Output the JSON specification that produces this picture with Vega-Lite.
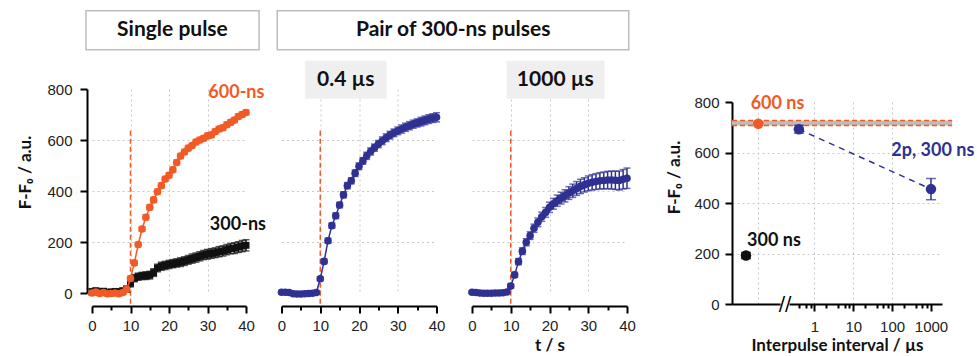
{
  "$schema": "https://vega.github.io/schema/vega-lite/v6.json",
  "background": "white",
  "padding": {"left": 16, "top": 9, "right": 0, "bottom": 0},
  "bounds": "flush",
  "spacing": 35.5,
  "datasets": {
    "ts": [
      {"s":"o","t":0,"v":0,"e":8},{"s":"o","t":1,"v":4,"e":8},{"s":"o","t":2,"v":-2,"e":8},{"s":"o","t":3,"v":2,"e":8},{"s":"o","t":4,"v":-3,"e":8},{"s":"o","t":5,"v":-2,"e":8},{"s":"o","t":6,"v":0,"e":8},{"s":"o","t":7,"v":-3,"e":8},{"s":"o","t":8,"v":2,"e":8},{"s":"o","t":9,"v":14,"e":8},{"s":"o","t":10,"v":57,"e":9},{"s":"o","t":11,"v":118,"e":9},{"s":"o","t":12,"v":190,"e":9},{"s":"o","t":13,"v":251,"e":9},{"s":"o","t":14,"v":297,"e":10},{"s":"o","t":15,"v":336,"e":10},{"s":"o","t":16,"v":365,"e":10},{"s":"o","t":17,"v":397,"e":10},{"s":"o","t":18,"v":421,"e":10},{"s":"o","t":19,"v":447,"e":10},{"s":"o","t":20,"v":462,"e":10},{"s":"o","t":21,"v":483,"e":10},{"s":"o","t":22,"v":512,"e":10},{"s":"o","t":23,"v":537,"e":10},{"s":"o","t":24,"v":553,"e":10},{"s":"o","t":25,"v":568,"e":10},{"s":"o","t":26,"v":578,"e":10},{"s":"o","t":27,"v":592,"e":10},{"s":"o","t":28,"v":600,"e":10},{"s":"o","t":29,"v":607,"e":10},{"s":"o","t":30,"v":616,"e":10},{"s":"o","t":31,"v":620,"e":10},{"s":"o","t":32,"v":633,"e":10},{"s":"o","t":33,"v":643,"e":10},{"s":"o","t":34,"v":648,"e":10},{"s":"o","t":35,"v":660,"e":10},{"s":"o","t":36,"v":669,"e":10},{"s":"o","t":37,"v":678,"e":10},{"s":"o","t":38,"v":692,"e":10},{"s":"o","t":39,"v":700,"e":10},{"s":"o","t":40,"v":708,"e":10},
      {"s":"k","t":0,"v":5,"e":12},{"s":"k","t":1,"v":8,"e":12},{"s":"k","t":2,"v":4,"e":12},{"s":"k","t":3,"v":6,"e":12},{"s":"k","t":4,"v":2,"e":12},{"s":"k","t":5,"v":3,"e":12},{"s":"k","t":6,"v":5,"e":12},{"s":"k","t":7,"v":4,"e":12},{"s":"k","t":8,"v":8,"e":12},{"s":"k","t":9,"v":15,"e":12},{"s":"k","t":10,"v":38,"e":14},{"s":"k","t":11,"v":58,"e":14},{"s":"k","t":12,"v":64,"e":14},{"s":"k","t":13,"v":67,"e":14},{"s":"k","t":14,"v":68,"e":15},{"s":"k","t":15,"v":70,"e":15},{"s":"k","t":16,"v":80,"e":15},{"s":"k","t":17,"v":98,"e":15},{"s":"k","t":18,"v":105,"e":16},{"s":"k","t":19,"v":108,"e":16},{"s":"k","t":20,"v":112,"e":16},{"s":"k","t":21,"v":115,"e":16},{"s":"k","t":22,"v":118,"e":16},{"s":"k","t":23,"v":121,"e":17},{"s":"k","t":24,"v":125,"e":17},{"s":"k","t":25,"v":130,"e":17},{"s":"k","t":26,"v":135,"e":18},{"s":"k","t":27,"v":139,"e":18},{"s":"k","t":28,"v":144,"e":18},{"s":"k","t":29,"v":149,"e":18},{"s":"k","t":30,"v":152,"e":19},{"s":"k","t":31,"v":155,"e":19},{"s":"k","t":32,"v":158,"e":19},{"s":"k","t":33,"v":162,"e":20},{"s":"k","t":34,"v":165,"e":20},{"s":"k","t":35,"v":170,"e":20},{"s":"k","t":36,"v":174,"e":20},{"s":"k","t":37,"v":176,"e":21},{"s":"k","t":38,"v":180,"e":21},{"s":"k","t":39,"v":184,"e":22},{"s":"k","t":40,"v":187,"e":22},
      {"s":"a","t":0,"v":3,"e":6},{"s":"a","t":1,"v":3,"e":6},{"s":"a","t":2,"v":2,"e":6},{"s":"a","t":3,"v":-3,"e":6},{"s":"a","t":4,"v":-4,"e":6},{"s":"a","t":5,"v":-4,"e":6},{"s":"a","t":6,"v":-3,"e":6},{"s":"a","t":7,"v":-2,"e":6},{"s":"a","t":8,"v":-1,"e":6},{"s":"a","t":9,"v":2,"e":6},{"s":"a","t":10,"v":56,"e":8},{"s":"a","t":11,"v":124,"e":9},{"s":"a","t":12,"v":205,"e":10},{"s":"a","t":13,"v":264,"e":10},{"s":"a","t":14,"v":303,"e":11},{"s":"a","t":15,"v":345,"e":11},{"s":"a","t":16,"v":385,"e":12},{"s":"a","t":17,"v":421,"e":12},{"s":"a","t":18,"v":440,"e":12},{"s":"a","t":19,"v":470,"e":13},{"s":"a","t":20,"v":497,"e":13},{"s":"a","t":21,"v":518,"e":13},{"s":"a","t":22,"v":538,"e":14},{"s":"a","t":23,"v":555,"e":14},{"s":"a","t":24,"v":570,"e":14},{"s":"a","t":25,"v":584,"e":14},{"s":"a","t":26,"v":597,"e":15},{"s":"a","t":27,"v":609,"e":15},{"s":"a","t":28,"v":619,"e":15},{"s":"a","t":29,"v":628,"e":15},{"s":"a","t":30,"v":636,"e":15},{"s":"a","t":31,"v":643,"e":16},{"s":"a","t":32,"v":650,"e":16},{"s":"a","t":33,"v":656,"e":16},{"s":"a","t":34,"v":662,"e":16},{"s":"a","t":35,"v":667,"e":16},{"s":"a","t":36,"v":672,"e":17},{"s":"a","t":37,"v":677,"e":17},{"s":"a","t":38,"v":682,"e":17},{"s":"a","t":39,"v":686,"e":17},{"s":"a","t":40,"v":689,"e":18},
      {"s":"b","t":0,"v":3,"e":5},{"s":"b","t":1,"v":2,"e":5},{"s":"b","t":2,"v":0,"e":5},{"s":"b","t":3,"v":-1,"e":5},{"s":"b","t":4,"v":-1,"e":5},{"s":"b","t":5,"v":-1,"e":5},{"s":"b","t":6,"v":0,"e":5},{"s":"b","t":7,"v":0,"e":5},{"s":"b","t":8,"v":1,"e":5},{"s":"b","t":9,"v":4,"e":6},{"s":"b","t":10,"v":27,"e":8},{"s":"b","t":11,"v":71,"e":10},{"s":"b","t":12,"v":123,"e":12},{"s":"b","t":13,"v":164,"e":13},{"s":"b","t":14,"v":199,"e":14},{"s":"b","t":15,"v":225,"e":15},{"s":"b","t":16,"v":254,"e":16},{"s":"b","t":17,"v":277,"e":17},{"s":"b","t":18,"v":299,"e":18},{"s":"b","t":19,"v":316,"e":19},{"s":"b","t":20,"v":336,"e":20},{"s":"b","t":21,"v":350,"e":21},{"s":"b","t":22,"v":362,"e":22},{"s":"b","t":23,"v":372,"e":23},{"s":"b","t":24,"v":381,"e":24},{"s":"b","t":25,"v":392,"e":25},{"s":"b","t":26,"v":401,"e":26},{"s":"b","t":27,"v":410,"e":27},{"s":"b","t":28,"v":418,"e":28},{"s":"b","t":29,"v":424,"e":28},{"s":"b","t":30,"v":430,"e":29},{"s":"b","t":31,"v":434,"e":30},{"s":"b","t":32,"v":437,"e":31},{"s":"b","t":33,"v":440,"e":32},{"s":"b","t":34,"v":441,"e":33},{"s":"b","t":35,"v":443,"e":34},{"s":"b","t":36,"v":443,"e":35},{"s":"b","t":37,"v":442,"e":36},{"s":"b","t":38,"v":441,"e":37},{"s":"b","t":39,"v":446,"e":38},{"s":"b","t":40,"v":450,"e":40}
    ],
    "sum": [
      {"g":"300 ns","x":0.0174,"v":192,"e":12},
      {"g":"600 ns","x":0.036,"v":714,"e":6},
      {"g":"2p","x":0.4,"v":692,"e":16},
      {"g":"2p","x":1000,"v":455,"e":42}
    ]
  },
  "hconcat": [
    {
      "width": 154, "height": 204,
      "layer": [
        {"data": {"values": [{}]}, "mark": {"type": "rule", "color": "#f15a24", "strokeDash": [5, 3], "strokeWidth": 1.5},
         "encoding": {"x": {"datum": 10, "axis": {"values": [0,5,10,15,20,25,30,35,40], "labelExpr": "datum.value % 10 === 0 ? datum.label : ''", "labelOverlap": false, "labelFlush": false, "tickSize": {"condition": {"test": "datum.value % 10 === 0", "value": 7}, "value": 4}, "gridOpacity": {"condition": {"test": "datum.value % 10 === 0 && datum.value > 0 && datum.value < 40", "value": 1}, "value": 0}, "grid": true, "offset": 13, "title": null, "labelPadding": 5}}, "y": {"datum": -42}, "y2": {"datum": 640}}},
        {"data": {"values": [{"label": "Single pulse"}]}, "mark": {"type": "rect", "fill": "white", "stroke": "#bdbdbd", "strokeWidth": 1.5},
         "encoding": {"x": {"datum": -1.56, "axis": {"values": [0,5,10,15,20,25,30,35,40], "labelExpr": "datum.value % 10 === 0 ? datum.label : ''", "labelOverlap": false, "labelFlush": false, "tickSize": {"condition": {"test": "datum.value % 10 === 0", "value": 7}, "value": 4}, "gridOpacity": {"condition": {"test": "datum.value % 10 === 0 && datum.value > 0 && datum.value < 40", "value": 1}, "value": 0}, "grid": true, "offset": 13, "title": null, "labelPadding": 5}}, "x2": {"datum": 43.4}, "y": {"datum": 954}, "y2": {"datum": 1107}}},
        {"data": {"values": [{"label": "Single pulse"}]}, "mark": {"type": "text", "font": "Lato", "fontWeight": "bold", "fontSize": 21, "color": "#111"},
         "encoding": {"x": {"datum": 20.9, "axis": {"values": [0,5,10,15,20,25,30,35,40], "labelExpr": "datum.value % 10 === 0 ? datum.label : ''", "labelOverlap": false, "labelFlush": false, "tickSize": {"condition": {"test": "datum.value % 10 === 0", "value": 7}, "value": 4}, "gridOpacity": {"condition": {"test": "datum.value % 10 === 0 && datum.value > 0 && datum.value < 40", "value": 1}, "value": 0}, "grid": true, "offset": 13, "title": null, "labelPadding": 5}}, "y": {"datum": 1030}, "text": {"field": "label"}}},
        {"data": {"name": "ts"}, "transform": [{"filter": "datum.s === 'k' || datum.s === 'o'"}],
         "encoding": {
           "x": {"field": "t", "type": "quantitative", "title": null, "scale": {"domain": [0, 40], "nice": false, "zero": false},
             "axis": {"values": [0,5,10,15,20,25,30,35,40], "labelExpr": "datum.value % 10 === 0 ? datum.label : ''", "labelOverlap": false, "labelFlush": false,
               "tickSize": {"condition": {"test": "datum.value % 10 === 0", "value": 7}, "value": 4},
               "gridOpacity": {"condition": {"test": "datum.value % 10 === 0 && datum.value > 0 && datum.value < 40", "value": 1}, "value": 0},
               "grid": true, "offset": 13, "title": null, "labelPadding": 5}},
           "y": {"field": "v", "type": "quantitative", "title": "F-F₀ / a.u.", "scale": {"domain": [0, 800], "nice": false},
             "axis": {"values": [0,100,200,300,400,500,600,700,800], "labelExpr": "datum.value % 200 === 0 ? datum.label : ''", "labelOverlap": false,
               "tickSize": {"condition": {"test": "datum.value % 200 === 0", "value": 7}, "value": 4},
               "gridOpacity": {"condition": {"test": "datum.value % 200 === 0 && datum.value > 0 && datum.value < 800", "value": 1}, "value": 0},
               "grid": true, "offset": 5, "title": "F-F₀ / a.u.", "titlePadding": 12, "titleY": 83, "labelPadding": 8}}
         },
         "layer": [
           {"transform": [{"filter": "datum.s === 'k'"}], "mark": {"type": "line", "color": "#111", "strokeWidth": 1.5}},
           {"transform": [{"filter": "datum.s === 'k'"}], "mark": {"type": "errorbar", "ticks": true, "size": 7, "thickness": 1.5, "color": "#111"}, "encoding": {"yError": {"field": "e"}}},
           {"transform": [{"filter": "datum.s === 'k'"}], "mark": {"type": "point", "shape": "square", "filled": true, "size": 48, "opacity": 1, "color": "#111"}},
           {"transform": [{"filter": "datum.s === 'o'"}], "mark": {"type": "line", "color": "#f15a24", "strokeWidth": 1.5}},
           {"transform": [{"filter": "datum.s === 'o'"}], "mark": {"type": "errorbar", "ticks": true, "size": 7, "thickness": 1.5, "color": "#f15a24"}, "encoding": {"yError": {"field": "e"}}},
           {"transform": [{"filter": "datum.s === 'o'"}], "mark": {"type": "circle", "size": 58, "opacity": 1, "color": "#f15a24"}}
         ]},
        {"data": {"values": [{"label": "600-ns"}]}, "mark": {"type": "text", "font": "Lato", "fontWeight": "bold", "fontSize": 18, "color": "#f15a24"},
         "encoding": {"x": {"datum": 37.5, "axis": {"values": [0,5,10,15,20,25,30,35,40], "labelExpr": "datum.value % 10 === 0 ? datum.label : ''", "labelOverlap": false, "labelFlush": false, "tickSize": {"condition": {"test": "datum.value % 10 === 0", "value": 7}, "value": 4}, "gridOpacity": {"condition": {"test": "datum.value % 10 === 0 && datum.value > 0 && datum.value < 40", "value": 1}, "value": 0}, "grid": true, "offset": 13, "title": null, "labelPadding": 5}}, "y": {"datum": 785}, "text": {"field": "label"}}},
        {"data": {"values": [{"label": "300-ns"}]}, "mark": {"type": "text", "font": "Lato", "fontWeight": "bold", "fontSize": 18, "color": "#111"},
         "encoding": {"x": {"datum": 37.9, "axis": {"values": [0,5,10,15,20,25,30,35,40], "labelExpr": "datum.value % 10 === 0 ? datum.label : ''", "labelOverlap": false, "labelFlush": false, "tickSize": {"condition": {"test": "datum.value % 10 === 0", "value": 7}, "value": 4}, "gridOpacity": {"condition": {"test": "datum.value % 10 === 0 && datum.value > 0 && datum.value < 40", "value": 1}, "value": 0}, "grid": true, "offset": 13, "title": null, "labelPadding": 5}}, "y": {"datum": 268}, "text": {"field": "label"}}}
      ]
    },
    {
      "width": 155, "height": 204,
      "layer": [
        {"data": {"values": [{}]}, "mark": {"type": "rule", "color": "#f15a24", "strokeDash": [5, 3], "strokeWidth": 1.5},
         "encoding": {"x": {"datum": 10, "axis": {"values": [0,5,10,15,20,25,30,35,40], "labelExpr": "datum.value % 10 === 0 ? datum.label : ''", "labelOverlap": false, "labelFlush": false, "tickSize": {"condition": {"test": "datum.value % 10 === 0", "value": 7}, "value": 4}, "gridOpacity": {"condition": {"test": "datum.value % 10 === 0 && datum.value > 0 && datum.value < 40", "value": 1}, "value": 0}, "grid": true, "offset": 13, "title": null, "labelPadding": 5}}, "y": {"datum": -42}, "y2": {"datum": 640}}},
        {"data": {"values": [{"label": "Pair of 300-ns pulses"}]}, "mark": {"type": "rect", "fill": "white", "stroke": "#bdbdbd", "strokeWidth": 1.5},
         "encoding": {"x": {"datum": -1.1, "axis": {"values": [0,5,10,15,20,25,30,35,40], "labelExpr": "datum.value % 10 === 0 ? datum.label : ''", "labelOverlap": false, "labelFlush": false, "tickSize": {"condition": {"test": "datum.value % 10 === 0", "value": 7}, "value": 4}, "gridOpacity": {"condition": {"test": "datum.value % 10 === 0 && datum.value > 0 && datum.value < 40", "value": 1}, "value": 0}, "grid": true, "offset": 13, "title": null, "labelPadding": 5}}, "x2": {"datum": 89.6}, "y": {"datum": 954}, "y2": {"datum": 1107}}},
        {"data": {"values": [{"label": "Pair of 300-ns pulses"}]}, "mark": {"type": "text", "font": "Lato", "fontWeight": "bold", "fontSize": 21, "color": "#111"},
         "encoding": {"x": {"datum": 44.3, "axis": {"values": [0,5,10,15,20,25,30,35,40], "labelExpr": "datum.value % 10 === 0 ? datum.label : ''", "labelOverlap": false, "labelFlush": false, "tickSize": {"condition": {"test": "datum.value % 10 === 0", "value": 7}, "value": 4}, "gridOpacity": {"condition": {"test": "datum.value % 10 === 0 && datum.value > 0 && datum.value < 40", "value": 1}, "value": 0}, "grid": true, "offset": 13, "title": null, "labelPadding": 5}}, "y": {"datum": 1030}, "text": {"field": "label"}}},
        {"data": {"name": "ts"}, "transform": [{"filter": "datum.s === 'a'"}],
         "encoding": {
           "x": {"field": "t", "type": "quantitative", "title": null, "scale": {"domain": [0, 40], "nice": false, "zero": false},
             "axis": {"values": [0,5,10,15,20,25,30,35,40], "labelExpr": "datum.value % 10 === 0 ? datum.label : ''", "labelOverlap": false, "labelFlush": false,
               "tickSize": {"condition": {"test": "datum.value % 10 === 0", "value": 7}, "value": 4},
               "gridOpacity": {"condition": {"test": "datum.value % 10 === 0 && datum.value > 0 && datum.value < 40", "value": 1}, "value": 0},
               "grid": true, "offset": 13, "title": null, "labelPadding": 5}},
           "y": {"field": "v", "type": "quantitative", "title": null, "scale": {"domain": [0, 800], "nice": false},
             "axis": {"values": [200, 400, 600], "domain": false, "ticks": false, "labels": false, "grid": true, "title": null}}
         },
         "layer": [
           {"mark": {"type": "line", "color": "#2e3192", "strokeWidth": 1.5}},
           {"mark": {"type": "errorbar", "ticks": true, "size": 7, "thickness": 1.5, "color": "#2e3192"}, "encoding": {"yError": {"field": "e"}}},
           {"mark": {"type": "circle", "size": 58, "opacity": 1, "color": "#2e3192"}}
         ]},
        {"data": {"values": [{"label": "0.4 µs"}]}, "mark": {"type": "rect", "fill": "#efefef"},
         "encoding": {"x": {"datum": 6.1, "axis": {"values": [0,5,10,15,20,25,30,35,40], "labelExpr": "datum.value % 10 === 0 ? datum.label : ''", "labelOverlap": false, "labelFlush": false, "tickSize": {"condition": {"test": "datum.value % 10 === 0", "value": 7}, "value": 4}, "gridOpacity": {"condition": {"test": "datum.value % 10 === 0 && datum.value > 0 && datum.value < 40", "value": 1}, "value": 0}, "grid": true, "offset": 13, "title": null, "labelPadding": 5}}, "x2": {"datum": 27.1}, "y": {"datum": 762}, "y2": {"datum": 911}}},
        {"data": {"values": [{"label": "0.4 µs"}]}, "mark": {"type": "text", "font": "Lato", "fontWeight": "bold", "fontSize": 21, "color": "#111"},
         "encoding": {"x": {"datum": 16.6, "axis": {"values": [0,5,10,15,20,25,30,35,40], "labelExpr": "datum.value % 10 === 0 ? datum.label : ''", "labelOverlap": false, "labelFlush": false, "tickSize": {"condition": {"test": "datum.value % 10 === 0", "value": 7}, "value": 4}, "gridOpacity": {"condition": {"test": "datum.value % 10 === 0 && datum.value > 0 && datum.value < 40", "value": 1}, "value": 0}, "grid": true, "offset": 13, "title": null, "labelPadding": 5}}, "y": {"datum": 836}, "text": {"field": "label"}}}
      ]
    },
    {
      "width": 155, "height": 204,
      "layer": [
        {"data": {"values": [{}]}, "mark": {"type": "rule", "color": "#f15a24", "strokeDash": [5, 3], "strokeWidth": 1.5},
         "encoding": {"x": {"datum": 10, "axis": {"values": [0,5,10,15,20,25,30,35,40], "labelExpr": "datum.value % 10 === 0 ? datum.label : ''", "labelOverlap": false, "labelFlush": false, "tickSize": {"condition": {"test": "datum.value % 10 === 0", "value": 7}, "value": 4}, "gridOpacity": {"condition": {"test": "datum.value % 10 === 0 && datum.value > 0 && datum.value < 40", "value": 1}, "value": 0}, "grid": true, "offset": 13, "title": "t / s", "titlePadding": 4, "labelPadding": 5}}, "y": {"datum": -42}, "y2": {"datum": 640}}},
        {"data": {"name": "ts"}, "transform": [{"filter": "datum.s === 'b'"}],
         "encoding": {
           "x": {"field": "t", "type": "quantitative", "title": "t / s", "scale": {"domain": [0, 40], "nice": false, "zero": false},
             "axis": {"values": [0,5,10,15,20,25,30,35,40], "labelExpr": "datum.value % 10 === 0 ? datum.label : ''", "labelOverlap": false, "labelFlush": false,
               "tickSize": {"condition": {"test": "datum.value % 10 === 0", "value": 7}, "value": 4},
               "gridOpacity": {"condition": {"test": "datum.value % 10 === 0 && datum.value > 0 && datum.value < 40", "value": 1}, "value": 0},
               "grid": true, "offset": 13, "title": "t / s", "titlePadding": 4, "labelPadding": 5}},
           "y": {"field": "v", "type": "quantitative", "title": null, "scale": {"domain": [0, 800], "nice": false},
             "axis": {"values": [200, 400, 600], "domain": false, "ticks": false, "labels": false, "grid": true, "title": null}}
         },
         "layer": [
           {"mark": {"type": "line", "color": "#2e3192", "strokeWidth": 1.5}},
           {"mark": {"type": "errorbar", "ticks": true, "size": 7, "thickness": 1.5, "color": "#2e3192"}, "encoding": {"yError": {"field": "e"}}},
           {"mark": {"type": "circle", "size": 58, "opacity": 1, "color": "#2e3192"}}
         ]},
        {"data": {"values": [{"label": "1000 µs"}]}, "mark": {"type": "rect", "fill": "#efefef"},
         "encoding": {"x": {"datum": 8.9, "axis": {"values": [0,5,10,15,20,25,30,35,40], "labelExpr": "datum.value % 10 === 0 ? datum.label : ''", "labelOverlap": false, "labelFlush": false, "tickSize": {"condition": {"test": "datum.value % 10 === 0", "value": 7}, "value": 4}, "gridOpacity": {"condition": {"test": "datum.value % 10 === 0 && datum.value > 0 && datum.value < 40", "value": 1}, "value": 0}, "grid": true, "offset": 13, "title": "t / s", "titlePadding": 4, "labelPadding": 5}}, "x2": {"datum": 34.2}, "y": {"datum": 762}, "y2": {"datum": 911}}},
        {"data": {"values": [{"label": "1000 µs"}]}, "mark": {"type": "text", "font": "Lato", "fontWeight": "bold", "fontSize": 21, "color": "#111"},
         "encoding": {"x": {"datum": 21.5, "axis": {"values": [0,5,10,15,20,25,30,35,40], "labelExpr": "datum.value % 10 === 0 ? datum.label : ''", "labelOverlap": false, "labelFlush": false, "tickSize": {"condition": {"test": "datum.value % 10 === 0", "value": 7}, "value": 4}, "gridOpacity": {"condition": {"test": "datum.value % 10 === 0 && datum.value > 0 && datum.value < 40", "value": 1}, "value": 0}, "grid": true, "offset": 13, "title": "t / s", "titlePadding": 4, "labelPadding": 5}}, "y": {"datum": 836}, "text": {"field": "label"}}}
      ]
    },
    {
      "width": 34, "height": 1,
      "data": {"values": [{}]},
      "mark": {"type": "point", "opacity": 0}
    },
    {
      "vconcat": [
        {
          "width": 210, "height": 8,
          "data": {"values": [{}]},
          "mark": {"type": "point", "opacity": 0}
        },
        {
          "width": 210, "height": 202,
          "layer": [
            {"data": {"values": [{}]}, "mark": {"type": "rect", "fill": "#bdbdbd"},
             "encoding": {"x": {"datum": 0.0076}, "x2": {"datum": 3500}, "y": {"datum": 707}, "y2": {"datum": 727}}},
            {"data": {"values": [{}]}, "mark": {"type": "rule", "strokeDash": [5, 3], "strokeWidth": 1.5, "color": "#f15a24"},
             "encoding": {"x": {"datum": 0.0076}, "x2": {"datum": 3500}, "y": {"datum": 727}}},
            {"data": {"values": [{}]}, "mark": {"type": "rule", "strokeDash": [5, 3], "strokeWidth": 1.5, "color": "#f15a24"},
             "encoding": {"x": {"datum": 0.0076}, "x2": {"datum": 3500}, "y": {"datum": 707}}},
            {"data": {"values": [{}]}, "mark": {"type": "rect", "fill": "white"},
             "encoding": {"x": {"datum": 0.135}, "x2": {"datum": 0.23}, "y": {"datum": -12}, "y2": {"datum": 12}}},
            {"data": {"values": [{"label": "//"}]}, "mark": {"type": "text", "font": "DejaVu Sans", "fontSize": 19, "baseline": "middle", "color": "#000"},
             "encoding": {"x": {"datum": 0.176}, "y": {"datum": 0}, "text": {"field": "label"}}},
            {"data": {"name": "sum"}, "transform": [{"filter": "datum.g === '2p'"}], "mark": {"type": "line", "strokeDash": [6, 5], "strokeWidth": 1.5, "color": "#2e3192"},
             "encoding": {
               "x": {"field": "x", "type": "quantitative", "title": "Interpulse interval / µs", "scale": {"type": "log", "domain": [0.0076, 1920], "nice": false},
                 "axis": {"values": [0.036, 0.4, 0.6, 0.8, 1, 2, 4, 6, 8, 10, 20, 40, 60, 80, 100, 200, 400, 600, 800, 1000], "labelOverlap": false, "labelFlush": false,
                   "labelExpr": "indexof([1,10,100,1000], datum.value) >= 0 ? format(datum.value, 'd') : ''",
                   "tickSize": {"condition": {"test": "indexof([1,10,100,1000], datum.value) >= 0", "value": 7}, "value": 4},
                   "tickOpacity": {"condition": {"test": "datum.value < 0.1", "value": 0}, "value": 1},
                   "gridOpacity": {"condition": {"test": "indexof([0.036,1,10,100], datum.value) >= 0", "value": 1}, "value": 0},
                   "grid": true, "title": "Interpulse interval / µs", "labelPadding": 8, "titlePadding": 3}},
               "y": {"field": "v", "type": "quantitative", "title": "F-F₀ / a.u.", "scale": {"domain": [0, 800], "nice": false},
                 "axis": {"values": [0,100,200,300,400,500,600,700,800], "labelExpr": "datum.value % 200 === 0 ? datum.label : ''", "labelOverlap": false,
                   "tickSize": {"condition": {"test": "datum.value % 200 === 0", "value": 7}, "value": 4},
                   "gridOpacity": {"condition": {"test": "datum.value % 200 === 0 && datum.value > 0 && datum.value < 800", "value": 1}, "value": 0},
                   "grid": true, "title": "F-F₀ / a.u.", "titlePadding": 10, "titleY": 75, "labelPadding": 6}}
             }},
            {"data": {"name": "sum"}, "mark": {"type": "errorbar", "ticks": true, "size": 10, "thickness": 1.5},
             "encoding": {"x": {"field": "x", "type": "quantitative", "title": "Interpulse interval / µs"}, "y": {"field": "v", "type": "quantitative", "title": "F-F₀ / a.u."}, "yError": {"field": "e"},
               "color": {"field": "g", "type": "nominal", "scale": {"domain": ["300 ns", "600 ns", "2p"], "range": ["#111111", "#f15a24", "#2e3192"]}, "legend": null}}},
            {"data": {"name": "sum"}, "mark": {"type": "circle", "size": 110, "opacity": 1},
             "encoding": {"x": {"field": "x", "type": "quantitative", "title": "Interpulse interval / µs"}, "y": {"field": "v", "type": "quantitative", "title": "F-F₀ / a.u."},
               "color": {"field": "g", "type": "nominal", "legend": null}}},
            {"data": {"values": [{"label": "600 ns"}]}, "mark": {"type": "text", "font": "Lato", "fontWeight": "bold", "fontSize": 18, "color": "#f15a24"},
             "encoding": {"x": {"datum": 0.1127}, "y": {"datum": 793}, "text": {"field": "label"}}},
            {"data": {"values": [{"label": "2p, 300 ns"}]}, "mark": {"type": "text", "font": "Lato", "fontWeight": "bold", "fontSize": 18, "color": "#2e3192"},
             "encoding": {"x": {"datum": 1112}, "y": {"datum": 605}, "text": {"field": "label"}}},
            {"data": {"values": [{"label": "300 ns"}]}, "mark": {"type": "text", "font": "Lato", "fontWeight": "bold", "fontSize": 18, "color": "#111111"},
             "encoding": {"x": {"datum": 0.0914}, "y": {"datum": 251}, "text": {"field": "label"}}}
          ]
        }
      ],
      "spacing": 5, "bounds": "flush"
    }
  ],
  "config": {
    "view": {"stroke": null},
    "axis": {
      "labelFont": "Liberation Sans", "labelFontSize": 15, "labelColor": "#222",
      "titleFont": "Lato", "titleFontSize": 17, "titleFontWeight": "bold", "titleColor": "#111",
      "domainColor": "#000", "domainWidth": 2, "tickColor": "#000", "tickWidth": 2,
      "gridColor": "#c8c8c8", "gridDash": [2, 3], "gridWidth": 1
    }
  }
}
